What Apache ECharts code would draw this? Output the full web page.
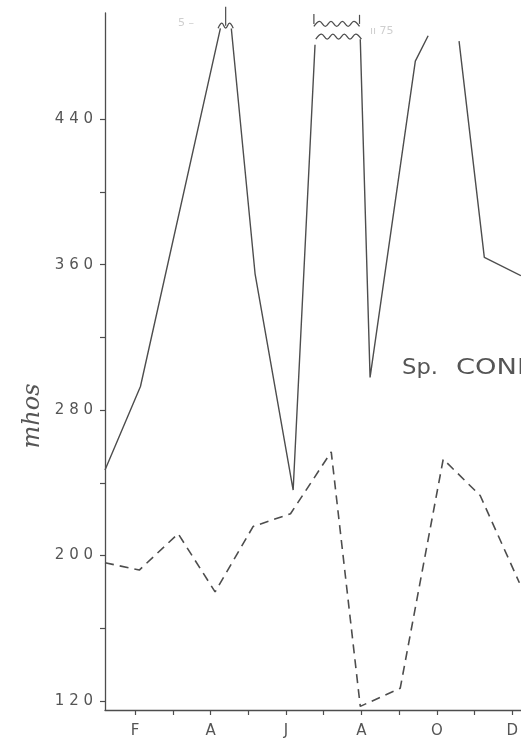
<!DOCTYPE html>
<html>
<head>
<meta charset="utf-8">
<script src="https://cdn.jsdelivr.net/npm/echarts@6/dist/echarts.min.js"></script>
<style>
html,body{margin:0;padding:0;background:#fff;}
#chart{width:521px;height:748px;}
</style>
</head>
<body>
<div id="chart"></div>
<script>
// x positions are in months (0 = Jan, 11 = Dec)
const monthTicks = [1, 2, 3, 4, 5, 6, 7, 8, 9, 10, 11];
const monthLabelPos = [1, 3, 5, 7, 9, 11];
const monthLabels = ['F', 'A', 'J', 'A', 'O', 'D'];
const yTicks = [120, 160, 200, 240, 280, 320, 360, 400, 440];
const yLabels = [120, 200, 280, 360, 440];

// solid line (Sp. COND), null = break in the line (off-scale peaks)
const solidMonth = [0.2, 1.14, 3.26, null, 3.55, 4.18, 5.19, 5.77, null, 6.97, 7.23, 8.43, 8.77, null, 9.59, 10.26, 11.23];
const solidValue = [247, 293, 490, null, 490, 355, 236, 481, null, 484, 298, 472, 486, null, 483, 364, 354];

// dashed line
const dashedMonth = [0.2, 1.11, 2.14, 3.12, 4.13, 5.12, 6.2, 6.97, 8.03, 9.17, 10.15, 11.19];
const dashedValue = [196, 192, 212, 180, 216, 223, 257, 117, 127, 253, 233, 185];

// axis-break marks (wavy lines) at off-scale peaks
const breakStart = [3.2, 5.74, 5.79];
const breakEnd = [3.6, 6.95, 7.0];
const breakValue = [491.5, 492.5, 485.5];
// small vertical strokes above the breaks
const flagMonth = [3.4, 5.74, 6.95];
const flagFrom = [491.5, 492.5, 492.5];
const flagTo = [502, 498, 497.5];

const solidData = solidMonth.map((m, i) => m === null ? ['-', '-'] : [m, solidValue[i]]);
const dashedData = dashedMonth.map((m, i) => [m, dashedValue[i]]);
const breakData = breakStart.map((s, i) => [s, breakEnd[i], breakValue[i]]);
const flagData = flagMonth.map((m, i) => [m, flagFrom[i], flagTo[i]]);

const ink = '#4d4d4d';
const chart = echarts.init(document.getElementById('chart'));
chart.setOption({
  backgroundColor: '#ffffff',
  animation: false,
  grid: {left: 105, right: 0, top: 13, bottom: 38},
  xAxis: {
    type: 'value', min: 0.2, max: 11.23,
    splitLine: {show: false},
    axisLine: {onZero: false, lineStyle: {color: ink, width: 1.3}},
    axisTick: {customValues: monthTicks, length: 5, lineStyle: {color: ink, width: 1.2}},
    axisLabel: {
      customValues: monthLabelPos,
      formatter: v => monthLabels[monthLabelPos.indexOf(Math.round(v))] || '',
      color: '#555', fontFamily: 'DejaVu Sans', fontSize: 15, margin: 14
    }
  },
  yAxis: {
    type: 'value', min: 115, max: 498.5,
    splitLine: {show: false},
    axisLine: {show: true, lineStyle: {color: ink, width: 1.3}},
    axisTick: {show: true, customValues: yTicks, length: 5, lineStyle: {color: ink, width: 1.2}},
    axisLabel: {
      customValues: yLabels,
      formatter: v => String(v).split('').join(' '),
      color: '#555', fontFamily: 'DejaVu Sans', fontSize: 15, margin: 12
    }
  },
  series: [
    {
      type: 'line', data: solidData, symbol: 'none', connectNulls: false,
      lineStyle: {color: ink, width: 1.4}
    },
    {
      type: 'line', data: dashedData, symbol: 'none',
      lineStyle: {color: ink, width: 1.6, type: [9, 6]}
    },
    {
      type: 'custom', data: breakData, clip: false,
      renderItem: function (params, api) {
        const p1 = api.coord([api.value(0), api.value(2)]);
        const p2 = api.coord([api.value(1), api.value(2)]);
        const len = p2[0] - p1[0];
        const n = Math.max(4, Math.round(len / 5.5));
        const pts = [];
        for (let k = 0; k <= n; k++) {
          pts.push([p1[0] + len * k / n, p1[1] + (k % 2 === 0 ? 2.5 : -2.5)]);
        }
        return {type: 'polyline', shape: {points: pts, smooth: 0.4},
          style: {stroke: ink, fill: null, lineWidth: 1.3}};
      }
    },
    {
      type: 'custom', data: flagData, clip: false,
      renderItem: function (params, api) {
        const a = api.coord([api.value(0), api.value(1)]);
        const b = api.coord([api.value(0), api.value(2)]);
        return {type: 'line', shape: {x1: a[0], y1: a[1], x2: b[0], y2: b[1]},
          style: {stroke: ink, lineWidth: 1.2}};
      }
    }
  ],
  graphic: [
    {type: 'text', x: 33, y: 416, rotation: Math.PI / 2,
      style: {text: 'mhos', font: 'italic 24px "DejaVu Serif"', fill: '#555', align: 'center', verticalAlign: 'middle'}},
    {type: 'text', x: 402, y: 358, scaleX: 1.08,
      style: {text: 'Sp.', font: '21px "DejaVu Sans"', fill: '#555'}},
    {type: 'text', x: 456, y: 358, scaleX: 1.3,
      style: {text: 'COND', font: '21px "DejaVu Sans"', fill: '#555'}},
    {type: 'text', x: 178, y: 18,
      style: {text: '5 –', font: '11px "DejaVu Sans"', fill: '#cfcfcf'}},
    {type: 'text', x: 370, y: 26,
      style: {text: 'ıı 75', font: '11px "DejaVu Sans"', fill: '#cfcfcf'}}
  ]
});
</script>
</body>
</html>
